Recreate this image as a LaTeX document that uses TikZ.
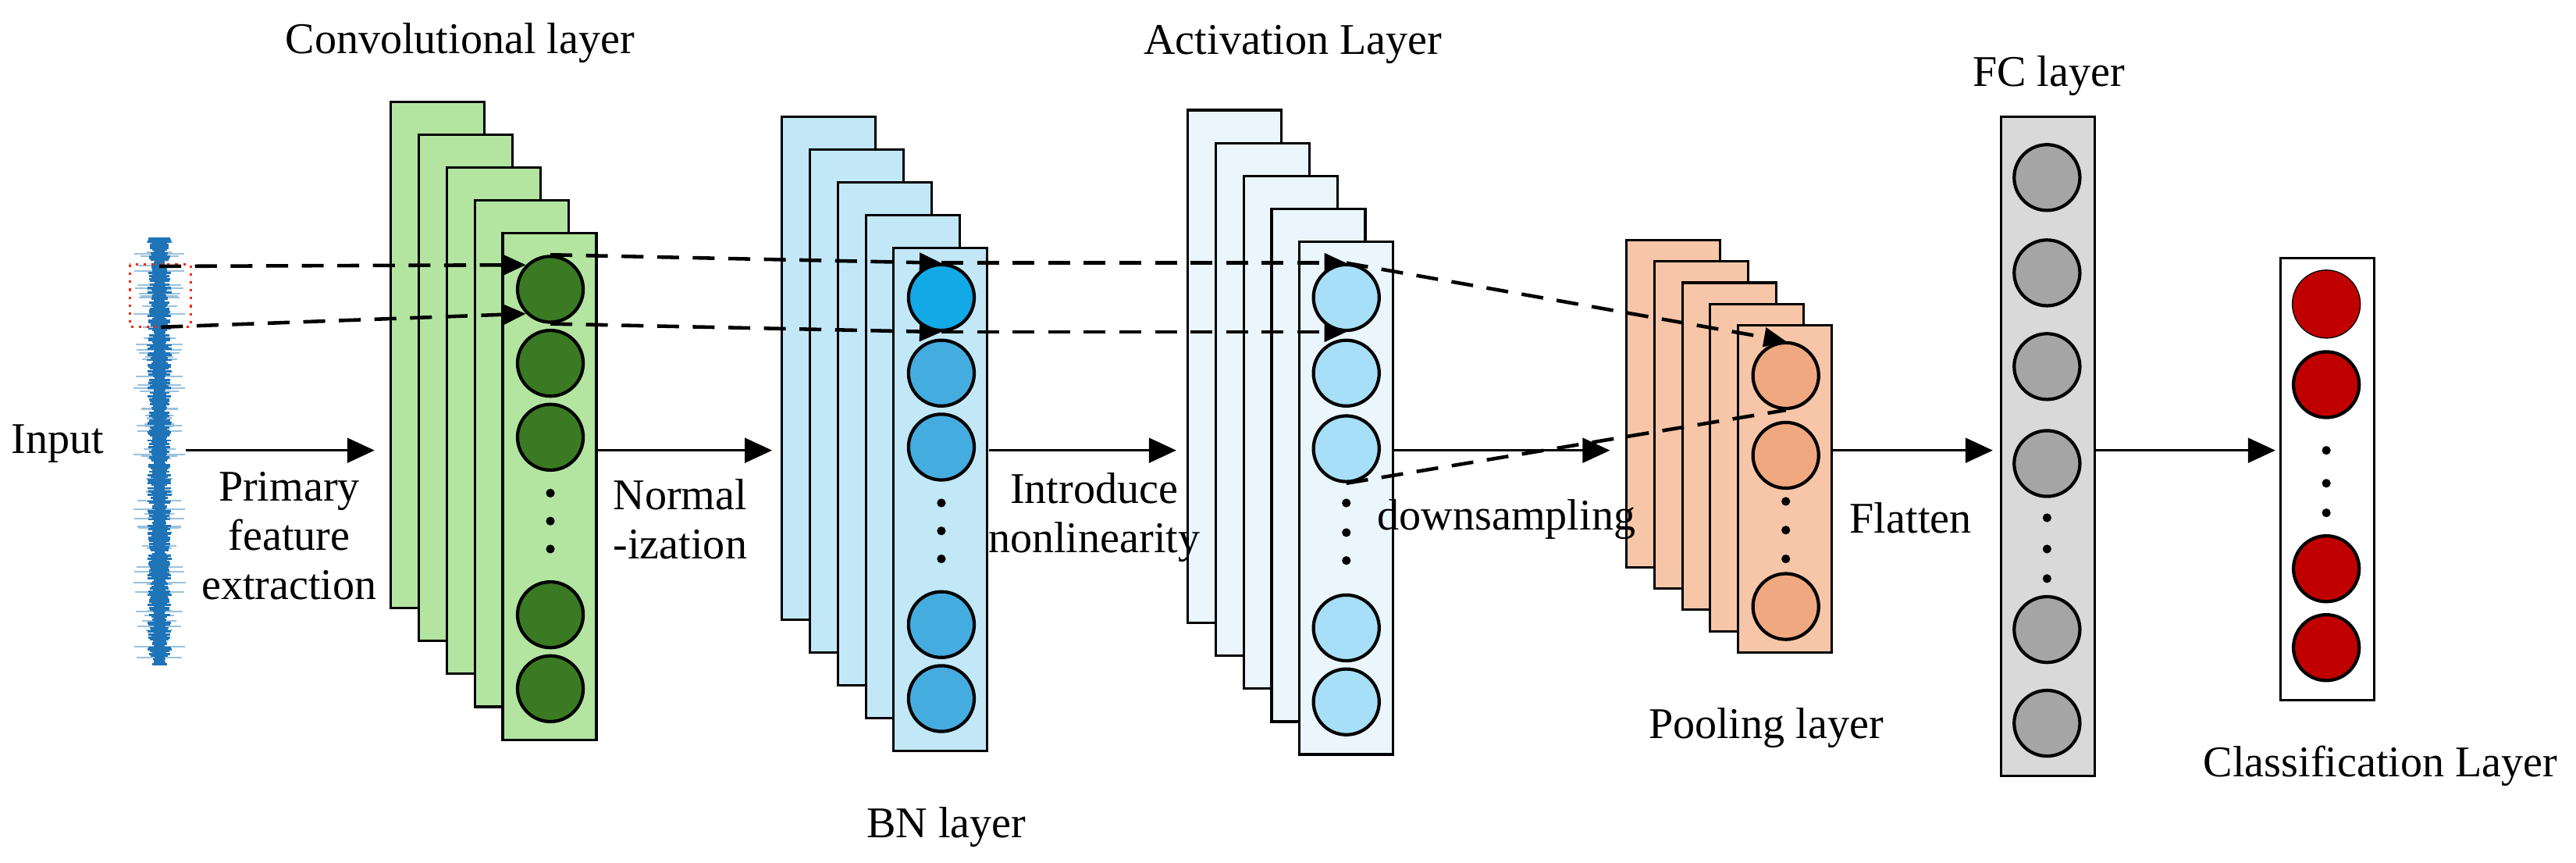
\documentclass[tikz,border=0pt]{standalone}
\usepackage{fontspec}
\setmainfont{Liberation Serif}
\usetikzlibrary{arrows.meta}
\definecolor{gback}{HTML}{B3E5A1}
\definecolor{gcirc}{HTML}{3A7A22}
\definecolor{bback}{HTML}{C2E8F8}
\definecolor{bcirc}{HTML}{45ACDF}
\definecolor{bcirc1}{HTML}{12A9E6}
\definecolor{aback}{HTML}{EAF6FC}
\definecolor{acirc}{HTML}{A6DFF7}
\definecolor{pback}{HTML}{F7C6A8}
\definecolor{pcirc}{HTML}{F0A880}
\definecolor{fback}{HTML}{D9D9D9}
\definecolor{fcirc}{HTML}{A5A5A5}
\definecolor{ccirc}{HTML}{C00000}
\definecolor{sig}{HTML}{1F74B8}
\begin{document}
\begin{tikzpicture}[x=0.6pt,y=-0.6pt,
  lay/.style={draw=black,line width=0.9pt},
  circ/.style={circle,draw=black,line width=1.2pt,minimum size=24pt,inner sep=0pt},
  dot/.style={circle,fill=black,minimum size=3.2pt,inner sep=0pt},
  lbl/.style={font=\fontsize{16}{17}\selectfont,align=center,inner sep=0pt},
  flow/.style={line width=1pt,-{Triangle[length=10pt,width=9pt]}},
  dsh/.style={line width=1.3pt,dash pattern=on 8pt off 5pt},
  dar/.style={dsh,-{Triangle[length=8pt,width=7pt]}}]
\useasboundingbox (0,0) rectangle (1568,525);
% signal
\pgfmathsetseed{7}
\foreach \i in {0,...,70}{\pgfmathsetmacro\yy{146+258*rnd}\pgfmathsetmacro\w{6+10*rnd}
  \draw[sig!45,line width=0.6pt] ({97-\w},\yy) -- ({97+\w},\yy);}
\foreach \i in {0,...,259}{\pgfmathsetmacro\w{3+4.5*rnd}
  \draw[sig,line width=0.8pt] ({97-\w},{145+\i}) -- ({97+\w},{145+\i});}
\draw[red!70!orange,dotted,line width=0.9pt] (79,161) rectangle (116,199);
\coordinate (s1) at (97,162);
\coordinate (s2) at (98,199);
\coordinate (sin) at (113,274);
\node[lbl] (input) at (35,270) {Input};
% green stack
\foreach \k in {0,...,4}\draw[lay,fill=gback] ({238+17*\k},{62+20*\k}) rectangle ++(57,308);
\foreach \n/\y in {1/176,2/221,3/266,4/374,5/419}\node[circ,fill=gcirc] (g\n) at (335,\y) {};
\foreach \y in {300,317,334}\node[dot] at (335,\y) {};
\coordinate (gin) at (228,274); \coordinate (gout) at (363,274);
% blue stack
\foreach \k in {0,...,4}\draw[lay,fill=bback] ({476+17*\k},{71+20*\k}) rectangle ++(57,306);
\node[circ,fill=bcirc1] (b1) at (573,181) {};
\foreach \n/\y in {2/227,3/272,4/380,5/425}\node[circ,fill=bcirc] (b\n) at (573,\y) {};
\foreach \y in {306,323,340}\node[dot] at (573,\y) {};
\coordinate (bin) at (470,274); \coordinate (bout) at (602,274);
% activation stack
\foreach \k in {0,...,4}\draw[lay,fill=aback] ({723+17*\k},{67+20*\k}) rectangle ++(57,312);
\foreach \n/\y in {1/181,2/227,3/273,4/382,5/427}\node[circ,fill=acirc] (a\n) at (819.5,\y) {};
\foreach \y in {306,324,341}\node[dot] at (819.5,\y) {};
\coordinate (ain) at (716,274); \coordinate (aout) at (848,274);
% pooling stack
\foreach \k in {0,...,4}\draw[lay,fill=pback] ({990+17*\k},{146+13*\k}) rectangle ++(57,199);
\foreach \n/\y in {1/228.5,2/277,3/369}\node[circ,fill=pcirc] (p\n) at (1087,\y) {};
\foreach \y in {305,322.5,340}\node[dot] at (1087,\y) {};
\coordinate (pin) at (980,274); \coordinate (pout) at (1115,274);
% FC
\draw[lay,fill=fback] (1218,71) rectangle (1275,472);
\foreach \n/\y in {1/108,2/166,3/223,4/282,5/383,6/440}\node[circ,fill=fcirc] (f\n) at (1246,\y) {};
\foreach \y in {315,334,352}\node[dot] at (1246,\y) {};
\coordinate (fin) at (1213,274); \coordinate (fout) at (1275,274);
% classification
\draw[lay,fill=white] (1388,157) rectangle (1445,426);
\foreach \n/\y in {1/185,2/234,3/346,4/394}\node[circ,fill=ccirc] (c\n) at (1416,\y) {};
\draw[fill=ccirc,draw=ccirc] (c1) circle (12pt);
\foreach \y in {274,294,312}\node[dot] at (1416,\y) {};
\coordinate (cin) at (1385,274);
% flow arrows
\draw[flow] (sin) -- (gin);
\draw[flow] (gout) -- (bin);
\draw[flow] (bout) -- (ain);
\draw[flow] (aout) -- (pin);
\draw[flow] (pout) -- (fin);
\draw[flow] (fout) -- (cin);
% dashed
\draw[dar] (s1) -- (g1.135);
\draw[dar] (s2) -- (g1.-135);
\draw[dar] (g1.north) -- (b1.north);
\draw[dar] (g1.south) -- (b1.south);
\draw[dar] (b1.north) -- (a1.north);
\draw[dar] (b1.south) -- (a1.south);
\draw[dar] (a1.north) -- (p1.north);
\draw[dsh] (a3.south) -- (p1.south);
% labels
\node[lbl] at (176,326) {Primary\\[1pt]feature\\[1pt]extraction};
\node[lbl] at (414,316) {Normal\\[1pt]-ization};
\node[lbl] at (666,315) {Introduce\\[1pt]nonlinearity};
\node[lbl] at (917,316) {downsampling};
\node[lbl] at (1163,315) {Flatten};
\node[lbl] at (280,26) {Convolutional layer};
\node[lbl] at (576,503) {BN layer};
\node[lbl] at (787,27) {Activation Layer};
\node[lbl] at (1075,443) {Pooling layer};
\node[lbl] at (1247,46) {FC layer};
\node[lbl] at (1449,466) {Classification Layer};
\end{tikzpicture}
\end{document}
